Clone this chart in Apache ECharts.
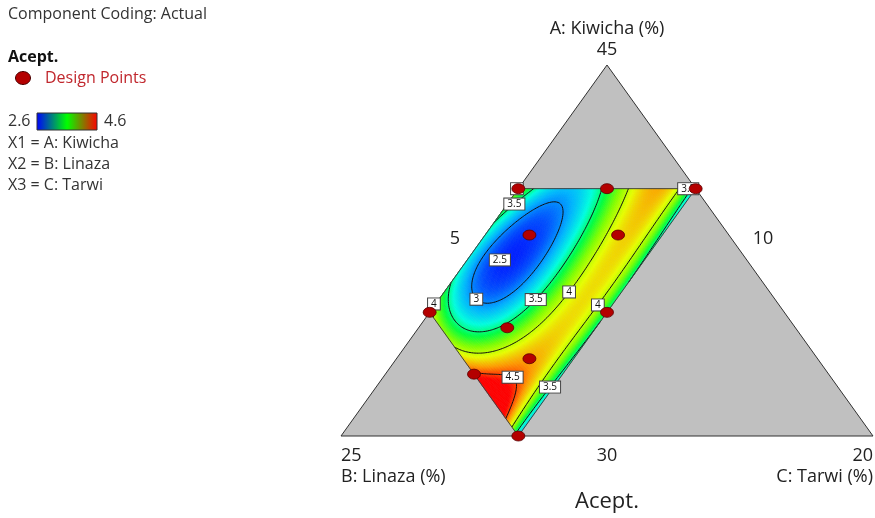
<!DOCTYPE html>
<html>
<head>
<meta charset="utf-8">
<script src="https://cdn.jsdelivr.net/npm/echarts/dist/echarts.min.js"></script>
<style>
  html, body { margin: 0; padding: 0; background: #ffffff; }
  #chart { width: 875px; height: 518px; }
</style>
</head>
<body>
<div id="chart"></div>
<script>
// ---- Mixture definition (actual %, components sum to 60) ----
const TOTAL = 60;
const limitsA = [30, 45];   // A: Kiwicha
const limitsB = [10, 25];   // B: Linaza
const limitsC = [5, 20];    // C: Tarwi
// constrained experimental region
const regionMaxA = 40, regionMaxB = 20, regionMinC = 5, regionMaxC = 10;
const componentNames = ['A: Kiwicha', 'B: Linaza', 'C: Tarwi'];

// ---- Design points (A, B, C) ----
const designA = [40, 40, 40, 35, 35, 30, 32.5, 38.125, 38.125, 34.375, 33.125];
const designB = [15, 12.5, 10, 20, 15, 20, 20, 15.625, 13.125, 18.125, 18.125];
const designC = [5, 7.5, 10, 5, 10, 10, 7.5, 6.25, 8.75, 7.5, 8.75];

// ---- Response (Acept.) readings: compositions [A, C] lying on each contour ----
const contourLevels = [2.5, 3, 3.5, 4, 4.5];
const on30 = [[39.34,6.32],[38.87,6.84],[37.92,7.21],[36.98,7.31],[36.17,7.24],[35.50,6.83],
              [35.16,6.24],[35.30,5.80],[35.77,5.52],[36.98,5.34],[38.20,5.39],[39.07,5.70]];
const on35 = [[40.0,5.62],[39.43,5.12],[38.21,5.15],[36.99,5.14],[35.50,5.18],[34.96,5.56],
              [34.42,6.29],[34.29,7.02],[34.375,7.5],[35.58,7.63],[36.59,7.82],[37.80,7.78],
              [38.89,7.57],[39.95,7.19],[39.99,9.85],[37.5,9.93],[35.09,9.95],[31.98,9.79]];
const on40 = [[34.85,5.14],[34.16,6.05],[33.76,6.81],[33.88,7.88],[34.00,8.19],[35.94,8.40],
              [37.80,8.46],[39.95,8.12],[39.93,9.36],[37.52,9.50],[35.24,9.63],[33.23,9.70],[31.62,9.66]];
const on45 = [[32.5,7.5],[32.51,8.09],[32.39,8.66],[31.86,8.98],[31.09,9.22],[30.77,9.24]];
// spot readings [A, C, Acept.]
const spotReadings = [
  [37.24,6.09,2.49],[38.125,6.25,2.62],
  [40,5.0,3.7],[40,6.4,3.3],[40,7.5,3.6],[40,8.78,4.15],[40,10,3.45],[39.0,8.8,4.25],
  [37.5,5.0,3.65],[35,5,3.95],
  [33.88,6.08,4.05],[33.27,6.72,4.25],[31.66,8.32,4.65],[32.0,8.5,4.55],[30.44,9.56,4.3],
  [37.5,10,3.47],[35,10,3.45],[32.5,10,3.35],[30.7,10,3.2],
  [38.125,8.75,4.35],[36.10,8.97,4.35],[33.125,8.75,4.4]
];

// ---- Contour labels [A, C, text] ----
const labelA = [39.43, 37.12, 35.26, 35.58, 35.94, 35.34, 35.24, 32.43, 32.06, 40, 40];
const labelC = [5.12, 5.92, 6.01, 7.63, 8.40, 4.95, 9.63, 8.66, 9.72, 9.79, 4.96];
const labelText = ['3.5', '2.5', '3', '3.5', '4', '4', '4', '4.5', '3.5', '3.5', '4'];
const labelSnap = [1, 0, 1, 1, 1, 0, 1, 1, 1, 0, 0];

// ---- Colour scale of the response ----
const colorStops = ['#0000a0','#0000ff','#0050ff','#00b4ff','#00ffe0','#00ff40','#80ff00','#e8ff00','#ff9800','#ff0000'];
const colorMin = 2.35, colorMax = 4.6;
const legendMin = 2.6, legendMax = 4.6;

// ---- Ternary helpers ----
function toXY(A, C) {
  const a = (A - limitsA[0]) / (limitsA[1] - limitsA[0]);
  const c = (C - limitsC[0]) / (limitsC[1] - limitsC[0]);
  return [c + a / 2, a];
}
function regionAC(u, w) {
  const C = regionMinC + (regionMaxC - regionMinC) * u;
  const Amin = TOTAL - regionMaxB - C;
  return [Amin + w * (regionMaxA - Amin), C];
}

// ---- Least-squares polynomial response surface ----
const DEG = 4;
const terms = [];
for (let d = 0; d <= DEG; d++) for (let i = 0; i <= d; i++) terms.push([i, d - i]);
function basis(A, C) {
  const x = (C - 7.5) / 2.5, y = (A - 35) / 5;
  return terms.map(([i, j]) => Math.pow(x, i) * Math.pow(y, j));
}
const samples = [];
[[on30, 3], [on35, 3.5], [on40, 4], [on45, 4.5]].forEach(([pts, lv]) => pts.forEach(p => samples.push([p[0], p[1], lv])));
spotReadings.forEach(r => samples.push(r));

function solve(M, b) {
  const n = b.length;
  for (let k = 0; k < n; k++) {
    let p = k;
    for (let i = k + 1; i < n; i++) if (Math.abs(M[i][k]) > Math.abs(M[p][k])) p = i;
    [M[k], M[p]] = [M[p], M[k]]; [b[k], b[p]] = [b[p], b[k]];
    for (let i = k + 1; i < n; i++) {
      const f = M[i][k] / M[k][k];
      for (let j = k; j < n; j++) M[i][j] -= f * M[k][j];
      b[i] -= f * b[k];
    }
  }
  const x = new Array(n).fill(0);
  for (let i = n - 1; i >= 0; i--) {
    let s = b[i];
    for (let j = i + 1; j < n; j++) s -= M[i][j] * x[j];
    x[i] = s / M[i][i];
  }
  return x;
}
const nT = terms.length;
const M = Array.from({ length: nT }, () => new Array(nT).fill(0));
const rhs = new Array(nT).fill(0);
samples.forEach(([A, C, y]) => {
  const f = basis(A, C);
  for (let i = 0; i < nT; i++) { rhs[i] += f[i] * y; for (let j = 0; j < nT; j++) M[i][j] += f[i] * f[j]; }
});
for (let i = 0; i < nT; i++) M[i][i] += 1e-4;
const coef = solve(M, rhs);
function model(A, C) { const f = basis(A, C); let s = 0; for (let i = 0; i < nT; i++) s += coef[i] * f[i]; return s; }

// ---- Grid over the region ----
const N = 100;
const F = [];
for (let i = 0; i <= N; i++) {
  F.push([]);
  for (let j = 0; j <= N; j++) { const [A, C] = regionAC(i / N, j / N); F[i].push(model(A, C)); }
}
const cells = [];
for (let i = 0; i < N; i++) for (let j = 0; j < N; j++) {
  const corners = [[i, j], [i + 1, j], [i + 1, j + 1], [i, j + 1]].map(([a, b]) => toXY(...regionAC(a / N, b / N)));
  const [Am, Cm] = regionAC((i + 0.5) / N, (j + 0.5) / N);
  cells.push([].concat(...corners, [model(Am, Cm)]));
}

// ---- Contours by marching squares ----
function contourLines(level) {
  const segs = [], pos = {};
  function ep(k, ia, ja, ib, jb) {
    if (!(k in pos)) {
      const va = F[ia][ja], vb = F[ib][jb], t = (level - va) / (vb - va);
      pos[k] = [(ia + (ib - ia) * t) / N, (ja + (jb - ja) * t) / N];
    }
    return k;
  }
  for (let i = 0; i < N; i++) for (let j = 0; j < N; j++) {
    const v0 = F[i][j], v1 = F[i + 1][j], v2 = F[i + 1][j + 1], v3 = F[i][j + 1];
    let idx = 0;
    if (v0 > level) idx |= 1; if (v1 > level) idx |= 2; if (v2 > level) idx |= 4; if (v3 > level) idx |= 8;
    if (idx === 0 || idx === 15) continue;
    const E = [
      () => ep('h' + i + '_' + j, i, j, i + 1, j),
      () => ep('v' + (i + 1) + '_' + j, i + 1, j, i + 1, j + 1),
      () => ep('h' + i + '_' + (j + 1), i, j + 1, i + 1, j + 1),
      () => ep('v' + i + '_' + j, i, j, i, j + 1)
    ];
    const ctr = (v0 + v1 + v2 + v3) / 4 > level;
    const table = {1: [[3, 0]], 2: [[0, 1]], 3: [[3, 1]], 4: [[1, 2]],
      5: ctr ? [[0, 1], [2, 3]] : [[3, 0], [1, 2]], 6: [[0, 2]], 7: [[3, 2]], 8: [[2, 3]], 9: [[0, 2]],
      10: ctr ? [[3, 0], [1, 2]] : [[0, 1], [2, 3]], 11: [[1, 2]], 12: [[1, 3]], 13: [[0, 1]], 14: [[3, 0]]};
    table[idx].forEach(([a, b]) => segs.push([E[a](), E[b]()]));
  }
  const adj = {};
  segs.forEach((s, n) => { (adj[s[0]] = adj[s[0]] || []).push(n); (adj[s[1]] = adj[s[1]] || []).push(n); });
  const used = new Array(segs.length).fill(false), lines = [];
  for (let n = 0; n < segs.length; n++) {
    if (used[n]) continue;
    used[n] = true;
    const chain = [segs[n][0], segs[n][1]];
    for (const dir of [1, -1]) {
      let go = true;
      while (go) {
        go = false;
        const end = dir > 0 ? chain[chain.length - 1] : chain[0];
        for (const m of adj[end]) {
          if (!used[m]) {
            used[m] = true;
            const nxt = segs[m][0] === end ? segs[m][1] : segs[m][0];
            if (dir > 0) chain.push(nxt); else chain.unshift(nxt);
            go = true; break;
          }
        }
      }
    }
    lines.push(chain.map(k => toXY(...regionAC(pos[k][0], pos[k][1]))));
  }
  return lines;
}
const polylines = [];
contourLevels.forEach(lv => contourLines(lv).forEach(pts => polylines.push({ level: lv, pts })));

// contour labels, optionally placed onto the nearest contour of the same level
const labelData = labelA.map((A, k) => {
  let p = toXY(A, labelC[k]);
  if (labelSnap[k]) {
    const lv = parseFloat(labelText[k]);
    let best = null, bd = 0.03;
    polylines.filter(pl => pl.level === lv).forEach(pl => pl.pts.forEach(q => {
      const d = Math.hypot(q[0] - p[0], (q[1] - p[1]) * 0.7);
      if (d < bd) { bd = d; best = q; }
    }));
    if (best) p = best;
  }
  return [p[0], p[1], k];
});

// region outline
const regionOutline = [regionAC(0, 1), regionAC(1, 1), regionAC(1, 0), regionAC(0, 0)].map(ac => toXY(...ac));

// ternary axis texts
const axisTitles = componentNames.map(n => n + ' (%)');
const vertexTicks = [String(limitsA[1]), String(limitsB[1]), String(limitsC[1])];
const edgeTicks = [String(limitsA[0]), String(limitsB[0]), String(limitsC[0])];
const FONT = '"Open Sans", "Noto Sans", sans-serif';
const axisTextItems = [
  { at: [0.5, 1], dx: 0, dy: -15, align: 'center', text: vertexTicks[0] },
  { at: [0.5, 1], dx: 0, dy: -36, align: 'center', text: axisTitles[0] },
  { at: [0, 0], dx: 0, dy: 20, align: 'left', text: vertexTicks[1] },
  { at: [0, 0], dx: 0, dy: 41, align: 'left', text: axisTitles[1] },
  { at: [1, 0], dx: 0, dy: 20, align: 'right', text: vertexTicks[2] },
  { at: [1, 0], dx: 0, dy: 41, align: 'right', text: axisTitles[2] },
  { at: [0.5, 0], dx: 0, dy: 20, align: 'center', text: edgeTicks[0] },
  { at: [0.75, 0.5], dx: 23, dy: -12, align: 'center', text: edgeTicks[1] },
  { at: [0.25, 0.5], dx: -19, dy: -12, align: 'center', text: edgeTicks[2] },
  { at: [0.5, 0], dx: 0, dy: 66, align: 'center', text: 'Acept.', size: 22 }
];

function legendText(x, y, text, extra) {
  return { type: 'text', x, y, style: Object.assign({ text, font: '16px ' + FONT, fill: '#333',
    verticalAlign: 'middle', textVerticalAlign: 'middle' }, extra || {}) };
}

const chart = echarts.init(document.getElementById('chart'), null, { renderer: 'canvas' });
const option = {
  animation: false,
  grid: { left: 341, top: 65, width: 532, height: 371, show: false },
  xAxis: { type: 'value', min: 0, max: 1, show: false },
  yAxis: { type: 'value', min: 0, max: 1, show: false },
  visualMap: {
    type: 'continuous', show: false, seriesIndex: 1, dimension: 8,
    min: colorMin, max: colorMax, inRange: { color: colorStops }
  },
  graphic: [
    legendText(8, 14, 'Component Coding: Actual'),
    legendText(8, 57, 'Acept.', { font: 'bold 16px ' + FONT, fill: '#111' }),
    { type: 'ellipse', shape: { cx: 23, cy: 78, rx: 7.5, ry: 6.5 }, style: { fill: '#b40000', stroke: '#4a0000', lineWidth: 1 } },
    legendText(45, 78, 'Design Points', { fill: '#c0272d' }),
    legendText(8, 121, String(legendMin)),
    { type: 'rect', shape: { x: 37, y: 113, width: 60, height: 17 },
      style: { fill: new echarts.graphic.LinearGradient(0, 0, 1, 0, [
        { offset: 0, color: '#0000ff' }, { offset: 0.5, color: '#00ff00' }, { offset: 1, color: '#ff0000' }]),
        stroke: '#333', lineWidth: 1 } },
    legendText(104, 121, String(legendMax)),
    legendText(8, 143, 'X1 = ' + componentNames[0]),
    legendText(8, 164, 'X2 = ' + componentNames[1]),
    legendText(8, 185, 'X3 = ' + componentNames[2])
  ],
  series: [
    { // simplex background
      type: 'custom', silent: true, z: 1, data: [[0.5, 0.5]],
      renderItem: (p, api) => ({ type: 'polygon',
        shape: { points: [api.coord([0, 0]), api.coord([1, 0]), api.coord([0.5, 1])] },
        style: { fill: '#c0c0c0', stroke: '#303030', lineWidth: 1 } })
    },
    { // response surface cells
      type: 'custom', silent: true, z: 2, progressive: 0, data: cells,
      dimensions: ['x0','y0','x1','y1','x2','y2','x3','y3','val'],
      encode: { x: [0, 2, 4, 6], y: [1, 3, 5, 7] },
      renderItem: (p, api) => {
        const pts = [0, 1, 2, 3].map(k => api.coord([api.value(2 * k), api.value(2 * k + 1)]));
        const col = api.visual('color');
        return { type: 'polygon', shape: { points: pts }, style: { fill: col, stroke: col, lineWidth: 0.6 } };
      }
    },
    { // contour lines and region outline
      type: 'custom', silent: true, z: 3, progressive: 0,
      data: polylines.map((pl, i) => [pl.pts[0][0], pl.pts[0][1], i]).concat([[regionOutline[0][0], regionOutline[0][1], -1]]),
      renderItem: (p, api) => {
        const i = api.value(2);
        if (i < 0) return { type: 'polygon', shape: { points: regionOutline.map(q => api.coord(q)) },
          style: { fill: null, stroke: '#404040', lineWidth: 1 } };
        return { type: 'polyline', shape: { points: polylines[i].pts.map(q => api.coord(q)) },
          style: { fill: null, stroke: '#101010', lineWidth: 1 } };
      }
    },
    { // contour labels
      type: 'custom', silent: true, z: 4, data: labelData,
      renderItem: (p, api) => {
        const c = api.coord([api.value(0), api.value(1)]);
        return { type: 'text', x: c[0], y: c[1],
          style: { text: labelText[api.value(2)], font: '10px ' + FONT, fill: '#111',
            align: 'center', verticalAlign: 'middle', textAlign: 'center', textVerticalAlign: 'middle',
            backgroundColor: '#ffffff', borderColor: '#444', borderWidth: 1, padding: [1, 3, 0, 3] } };
      }
    },
    { // design points
      type: 'scatter', z: 5, silent: true,
      data: designA.map((A, k) => toXY(A, designC[k])),
      symbol: 'circle', symbolSize: [13, 10],
      itemStyle: { color: '#b40000', borderColor: '#5a0000', borderWidth: 0.8, opacity: 1 }
    },
    { // ternary axis texts
      type: 'custom', silent: true, z: 6,
      data: axisTextItems.map((t, k) => [t.at[0], t.at[1], k]),
      renderItem: (p, api) => {
        const t = axisTextItems[api.value(2)];
        const c = api.coord(t.at);
        return { type: 'text', x: c[0] + t.dx, y: c[1] + t.dy,
          style: { text: t.text, font: (t.size || 18) + 'px ' + FONT, fill: '#222',
            align: t.align, verticalAlign: 'middle', textAlign: t.align, textVerticalAlign: 'middle' } };
      }
    }
  ]
};
chart.setOption(option);
</script>
</body>
</html>
